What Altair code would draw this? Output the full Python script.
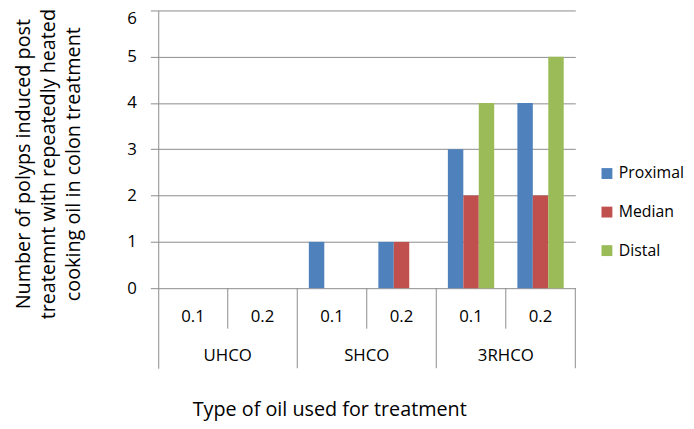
import altair as alt
import pandas as pd

groups = ["UHCO", "UHCO", "SHCO", "SHCO", "3RHCO", "3RHCO"]
doses = ["0.1", "0.2", "0.1", "0.2", "0.1", "0.2"]
group_names = ["UHCO", "SHCO", "3RHCO"]
series = ["Proximal", "Median", "Distal"]
proximal = [0, 0, 1, 1, 3, 4]
median = [0, 0, 0, 1, 2, 2]
distal = [0, 0, 0, 0, 4, 5]
colors = ["#4F81BD", "#C0504D", "#9BBB59"]
y_ticks = [0, 1, 2, 3, 4, 5, 6]

FONT = "Open Sans"
GRAY = "#8C8C8C"
Y_MIN = -1.73

slots = [f"{g} {d}" for g, d in zip(groups, doses)]
rows = []
for name, vals in zip(series, [proximal, median, distal]):
    for s, v in zip(slots, vals):
        rows.append({"slot": s, "series": name, "value": v})
bars_df = pd.DataFrame(rows)

y_scale = alt.Scale(domain=[Y_MIN, 6], nice=False, zero=False)
y_axis = alt.Axis(
    values=y_ticks,
    grid=True, gridColor=GRAY, gridWidth=1,
    domainColor=GRAY, tickColor=GRAY, tickSize=8,
    labelFont=FONT, labelFontSize=17, labelColor="black",
    labelPadding=14,
    labelBaseline=alt.condition("datum.value == 6", alt.value("top"), alt.value("middle")),
    title=["Number of polyps induced post",
           "treatemnt with repeatedly heated",
           "cooking oil in colon treatment"],
    titleFont=FONT, titleFontSize=20, titleFontWeight="normal",
    titleColor="black", titleAngle=-90, titleX=-136, titleY=155,
    titleAlign="center", titleBaseline="middle", titleLineHeight=25,
)

bars = alt.Chart(bars_df).mark_bar().encode(
    x=alt.X(
        "slot:N",
        sort=slots,
        scale=alt.Scale(paddingInner=0, paddingOuter=0),
        axis=alt.Axis(
            title="Type of oil used for treatment",
            labels=False, ticks=False, domain=False, grid=False,
            titleFont=FONT, titleFontSize=20, titleFontWeight="normal",
            titleColor="black", titleX=173, titleY=42,
            titleAlign="center", titleBaseline="middle",
        ),
    ),
    xOffset=alt.XOffset("series:N", sort=series,
                        scale=alt.Scale(paddingInner=0, paddingOuter=0.75)),
    y=alt.Y("value:Q", scale=y_scale, axis=y_axis),
    y2=alt.datum(0),
    color=alt.Color(
        "series:N",
        sort=series,
        scale=alt.Scale(domain=series, range=colors),
        legend=alt.Legend(
            title=None, orient="none", legendX=446, legendY=157,
            symbolType="square", symbolSize=121, symbolStrokeWidth=0,
            labelFont=FONT, labelFontSize=16, labelColor="black",
            labelOffset=4, rowPadding=23, padding=0,
        ),
    ),
)

# category table below the plot
bounds = list(range(1, 7))
rules_df = pd.DataFrame({
    "pos": bounds,
    "depth": [Y_MIN if b % 2 == 0 else -0.875 for b in bounds],
})
x_q = alt.Scale(domain=[0, 6], nice=False, zero=False)

rules = alt.Chart(rules_df).mark_rule(color=GRAY, strokeWidth=1).encode(
    x=alt.X("pos:Q", scale=x_q, axis=None),
    y=alt.Y("depth:Q", scale=y_scale, axis=y_axis),
    y2=alt.datum(0),
)

dose_df = pd.DataFrame({"pos": [i + 0.5 for i in range(6)], "label": doses})
dose_text = alt.Chart(dose_df).mark_text(
    font=FONT, fontSize=17, color="black", baseline="middle"
).encode(
    x=alt.X("pos:Q", scale=x_q, axis=None),
    y=alt.datum(-0.62, scale=y_scale, axis=y_axis),
    text="label:N",
)

group_df = pd.DataFrame({"pos": [1, 3, 5], "label": group_names})
group_text = alt.Chart(group_df).mark_text(
    font=FONT, fontSize=17, color="black", baseline="middle"
).encode(
    x=alt.X("pos:Q", scale=x_q, axis=None),
    y=alt.datum(-1.47, scale=y_scale, axis=y_axis),
    text="label:N",
)

chart = (
    alt.layer(bars, rules, dose_text, group_text)
    .resolve_scale(x="independent")
    .properties(
        width=422, height=362,
        autosize=alt.AutoSizeParams(type="none"),
        padding={"left": 152, "top": 0, "right": 112, "bottom": 59},
    )
    .configure(font=FONT)
    .configure_view(stroke=None)
)

chart.save("out.html", embed_options={"renderer": "svg", "actions": False})
